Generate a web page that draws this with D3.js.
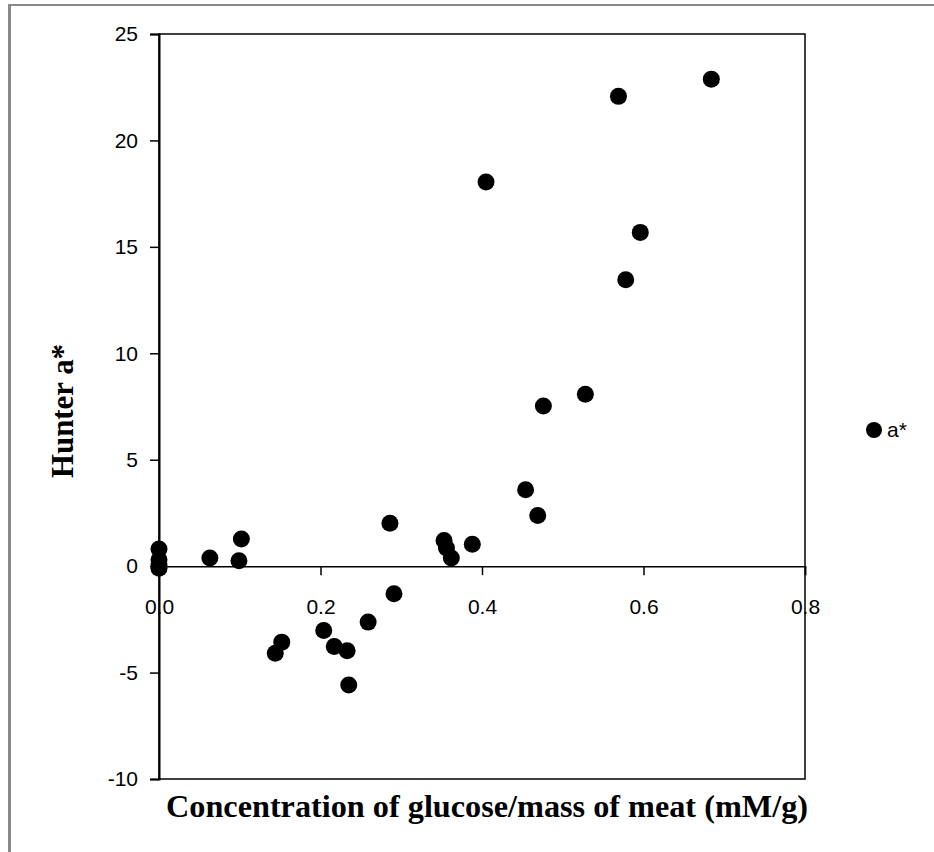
<!DOCTYPE html>
<meta charset="utf-8">
<style>
body { margin: 0; background: #fff; }
.tick text { font: 21px "Liberation Sans", sans-serif; fill: #000; }
.axis-title { font-family: "Liberation Serif", "Times New Roman", serif; font-weight: bold; font-size: 32px; }
</style>
<svg id="plot" width="934" height="852"></svg>
<script src="https://cdn.jsdelivr.net/npm/d3@7"></script>
<script>

// glucose concentration / mass of meat (mM/g)
var glucose = [0, 0, 0, 0, 0.063, 0.102, 0.099, 0.144, 0.152, 0.204, 0.217, 0.233, 0.235,
               0.259, 0.286, 0.291, 0.353, 0.356, 0.362, 0.388, 0.405, 0.454, 0.469, 0.476,
               0.528, 0.569, 0.578, 0.596, 0.684];
// Hunter a*
var hunterA = [0.8, 0.3, 0.05, -0.1, 0.38, 1.27, 0.25, -4.09, -3.57, -3.02, -3.78, -3.97, -5.58,
               -2.63, 2.02, -1.3, 1.2, 0.85, 0.38, 1.03, 18.05, 3.59, 2.38, 7.52,
               8.08, 22.07, 13.45, 15.68, 22.88];
var xTicks = [0, 0.2, 0.4, 0.6, 0.8];
var yTicks = [-10, -5, 0, 5, 10, 15, 20, 25];
var seriesName = "a*";

var data = glucose.map(function(g, i) { return {x: g, y: hunterA[i]}; });

var svg = d3.select("svg");
var plotLeft = 159, plotRight = 805, plotTop = 34, plotBottom = 779;

var x = d3.scaleLinear().domain([0, 0.8]).range([plotLeft, plotRight]);
var y = d3.scaleLinear().domain([-10, 25]).range([plotBottom, plotTop]);

// outer frame (top + left only)
svg.append("line").attr("x1", 8).attr("x2", 934).attr("y1", 5).attr("y2", 5)
    .attr("stroke", "#888").attr("stroke-width", 2);
svg.append("line").attr("x1", 9.5).attr("x2", 9.5).attr("y1", 4).attr("y2", 852)
    .attr("stroke", "#888").attr("stroke-width", 3);

// plot box
svg.append("rect")
    .attr("x", plotLeft).attr("y", plotTop)
    .attr("width", plotRight - plotLeft).attr("height", plotBottom - plotTop)
    .attr("fill", "none").attr("stroke", "#000").attr("stroke-width", 1.5);

// y axis (hyphen minus like the original)
var yAxis = svg.append("g")
    .attr("transform", "translate(" + plotLeft + ",0)")
    .call(d3.axisLeft(y).tickValues(yTicks).tickSize(9).tickPadding(12)
      .tickFormat(function(d) { return String(d); }));
yAxis.select(".domain").attr("stroke-width", 2);
yAxis.selectAll(".tick line").attr("stroke-width", 1.5);

// x axis crossing at y = 0
var xAxis = svg.append("g")
    .attr("transform", "translate(0," + y(0) + ")")
    .call(d3.axisBottom(x).tickValues(xTicks).tickSize(9).tickPadding(24)
      .tickFormat(function(d) { return d.toFixed(1); }));
xAxis.select(".domain").attr("stroke-width", 1.5);
xAxis.selectAll(".tick line").attr("stroke-width", 1.5);

// points
svg.append("g").selectAll("circle")
    .data(data)
  .enter().append("circle")
    .attr("cx", function(d) { return x(d.x); })
    .attr("cy", function(d) { return y(d.y); })
    .attr("r", 8.5)
    .attr("fill", "#000");

// axis titles
svg.append("text")
    .attr("class", "axis-title")
    .attr("x", 166).attr("y", 817)
    .attr("textLength", 642).attr("lengthAdjust", "spacingAndGlyphs")
    .text("Concentration of glucose/mass of meat (mM/g)");

svg.append("text")
    .attr("class", "axis-title")
    .attr("transform", "translate(73,478) rotate(-90)")
    .attr("textLength", 134).attr("lengthAdjust", "spacingAndGlyphs")
    .text("Hunter a*");

// legend
svg.append("circle").attr("cx", 874).attr("cy", 430).attr("r", 8).attr("fill", "#000");
svg.append("text")
    .attr("x", 887).attr("y", 437)
    .style("font", "21px 'Liberation Sans', sans-serif")
    .text(seriesName);

</script>
